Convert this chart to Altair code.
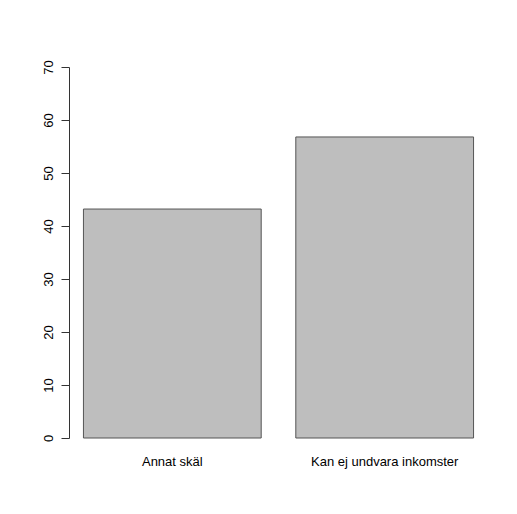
import altair as alt
import pandas as pd

categories = ["Annat skäl", "Kan ej undvara inkomster"]
values = [43.2, 56.8]
y_ticks = [0, 10, 20, 30, 40, 50, 60, 70]

df = pd.DataFrame({"cat": categories, "val": values})

FONT = "Liberation Sans"

chart = alt.Chart(df).mark_bar(
    fill="#bebebe", stroke="#555555", strokeWidth=1
).encode(
    x=alt.X(
        "cat:N",
        sort=categories,
        scale=alt.Scale(paddingInner=0.163, paddingOuter=0.068),
        axis=alt.Axis(
            title=None, domain=False, ticks=False, tickSize=0, grid=False,
            labelAngle=0, labelPadding=27, labelBaseline="alphabetic",
            labelFontSize=13, labelFont=FONT, labelColor="#000000",
        ),
    ),
    y=alt.Y(
        "val:Q",
        scale=alt.Scale(domain=[0, 70], nice=False, zero=True),
        axis=alt.Axis(
            values=y_ticks, title=None, grid=False,
            domainColor="#333333", tickColor="#333333", tickSize=8,
            labelAngle=270, labelAlign="center", labelBaseline="alphabetic",
            labelPadding=9, labelFontSize=13, labelFont=FONT,
            labelColor="#000000", labelFlush=False, labelOverlap=False,
        ),
    ),
).properties(
    width=419,
    height=371,
    autosize=alt.AutoSizeParams(type="none"),
    padding={"left": 61, "top": 59, "right": 18, "bottom": 50},
    background="white",
).configure_view(stroke=None)

chart.save("out.html", embed_options={"renderer": "svg", "actions": False})
